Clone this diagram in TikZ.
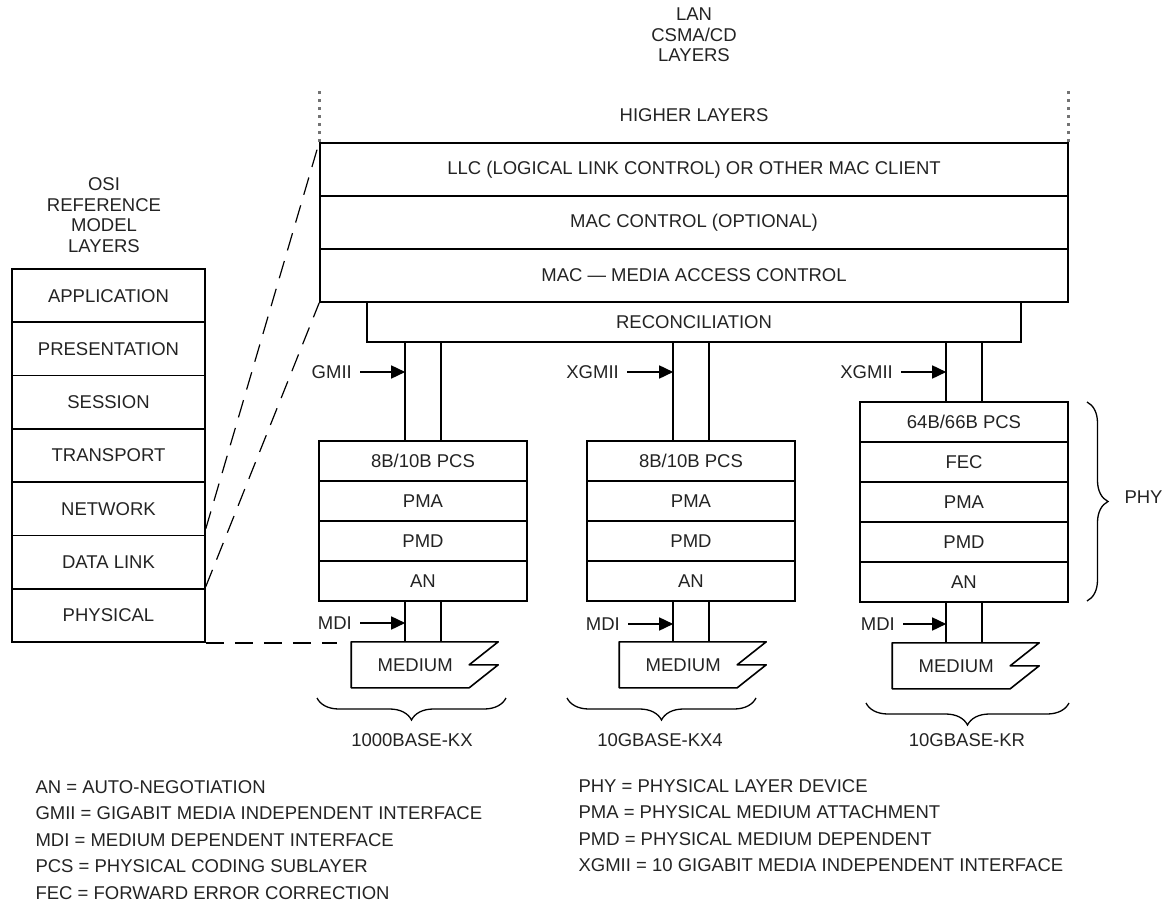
\documentclass[tikz,border=0pt]{standalone}
\usepackage{fontspec}
\setmainfont{Liberation Sans}
\usepackage{tikz}
\usetikzlibrary{arrows.meta,calc,decorations.pathreplacing}
\definecolor{inkgray}{RGB}{35,35,35}

\begin{document}
\begin{tikzpicture}[x=1pt,y=-1pt,
  font=\fontsize{18.5}{20.5}\selectfont, text=inkgray,
  box/.style={draw,line width=1.6pt,inner sep=0pt,minimum width=208pt,minimum height=40pt},
  osibox/.style={draw,line width=1.6pt,inner sep=0pt,minimum width=193pt,minimum height=53.3pt},
  lanbox/.style={draw,line width=1.6pt,inner sep=0pt,minimum width=748pt,minimum height=53pt},
  pipe/.style={line width=1.6pt},
  iface/.style={anchor=east,inner sep=0pt},
  ptr/.style={-{Triangle[length=14pt,width=13pt]},line width=1.6pt},
  mapline/.style={line width=1.2pt,dash pattern=on 18pt off 11pt},
  bracedown/.style={decorate,decoration={brace,mirror,amplitude=22pt},line width=1.3pt},
  braceright/.style={decorate,decoration={brace,amplitude=21pt},line width=1.3pt}]
  \useasboundingbox (0,0) rectangle (1163,904);

  % OSI reference model
  \node[align=center] (osititle) at (104,215) {OSI\\REFERENCE\\MODEL\\LAYERS};
  \foreach \nm/\txt [count=\i] in {app/APPLICATION,pres/PRESENTATION,sess/SESSION,
      trans/TRANSPORT,net/NETWORK,dl/DATA LINK,phy/PHYSICAL}
    \node[osibox] (osi-\nm) at (108.5,{269+53.3*(\i-0.5)}) {\txt};

  % LAN CSMA/CD layers
  \node[align=center] (lantitle) at (694,35) {LAN\\CSMA/CD\\LAYERS};
  \node (higher) at (694,115) {HIGHER LAYERS};
  \node[lanbox] (llc) at (694,169.5) {LLC (LOGICAL LINK CONTROL) OR OTHER MAC CLIENT};
  \node[lanbox] (macctl) at (694,222.5) {MAC CONTROL (OPTIONAL)};
  \node[lanbox] (mac) at (694,275.5) {MAC --- MEDIA ACCESS CONTROL};
  \node[draw,line width=1.6pt,inner sep=0pt,minimum width=654pt,minimum height=40pt]
    (recon) at (694,322) {RECONCILIATION};

  % dotted continuation of the LAN stack
  \draw[black!55,line width=2.8pt,dash pattern=on 3pt off 5pt] (llc.north west) -- ++(0,-53);
  \draw[black!55,line width=2.8pt,dash pattern=on 3pt off 5pt] (llc.north east) -- ++(0,-53);

  % PHY stacks
  \foreach \nm/\txt [count=\i] in {pcs/{8B/10B PCS},pma/PMA,pmd/PMD,an/AN}
    \node[box] (a-\nm) at (423,{441+40*(\i-0.5)}) {\txt};
  \foreach \nm/\txt [count=\i] in {pcs/{8B/10B PCS},pma/PMA,pmd/PMD,an/AN}
    \node[box] (b-\nm) at (691,{441+40*(\i-0.5)}) {\txt};
  \foreach \nm/\txt [count=\i] in {pcs/{64B/66B PCS},fec/FEC,pma/PMA,pmd/PMD,an/AN}
    \node[box] (c-\nm) at (964,{402+40*(\i-0.5)}) {\txt};

  % media and interface pipes
  \foreach \st in {a,b,c} {
    \coordinate (\st-m) at ($(\st-an.south west)+(33,40)$);
    \draw[pipe,line join=round] (\st-m) -- ++(147,0) -- ++(-29,23) -- ++(29,0)
      -- ++(-29,23) -- ++(-118,0) -- cycle;
    \node (\st-med) at ($(\st-m)+(64,23)$) {MEDIUM};
    \foreach \dx in {87,123} {
      \coordinate (\st-up\dx) at ($(\st-pcs.north west)+(\dx,0)$);
      \draw[pipe] (\st-up\dx) -- (\st-up\dx |- recon.south);
      \coordinate (\st-dn\dx) at ($(\st-an.south west)+(\dx,0)$);
      \draw[pipe] (\st-dn\dx) -- (\st-dn\dx |- \st-m);
    }
  }

  % interface labels
  \node[iface] (a-gmii) at (352,372) {GMII};
  \node[iface] (b-xgmii) at (619,372) {XGMII};
  \node[iface] (c-xgmii) at (893,372) {XGMII};
  \node[iface] (a-mdi) at (352,623) {MDI};
  \node[iface] (b-mdi) at (620,624) {MDI};
  \node[iface] (c-mdi) at (895,624) {MDI};
  \draw[ptr] ([xshift=8pt]a-gmii.east) -- (a-gmii.east -| a-up87);
  \draw[ptr] ([xshift=8pt]b-xgmii.east) -- (b-xgmii.east -| b-up87);
  \draw[ptr] ([xshift=8pt]c-xgmii.east) -- (c-xgmii.east -| c-up87);
  \draw[ptr] ([xshift=8pt]a-mdi.east) -- (a-mdi.east -| a-dn87);
  \draw[ptr] ([xshift=8pt]b-mdi.east) -- (b-mdi.east -| b-dn87);
  \draw[ptr] ([xshift=8pt]c-mdi.east) -- (c-mdi.east -| c-dn87);

  % mapping OSI -> LAN
  \draw[mapline] ([yshift=6pt]osi-dl.north east) -- (llc.north west);
  \draw[mapline] ([yshift=3pt]osi-dl.south east) -- (mac.south west);
  \draw[mapline,shorten >=14pt] (osi-phy.south east) -- (osi-phy.south east -| a-m);

  % braces
  \draw[bracedown] (317,698) -- (506,698);
  \draw[bracedown] (567,698) -- (756,698);
  \draw[bracedown] (866,703) -- (1069,703);
  \draw[braceright] (1087,402) -- (1087,601);
  \node (kx) at (412,740) {1000BASE-KX};
  \node (kx4) at (660,740) {10GBASE-KX4};
  \node (kr) at (967,740) {10GBASE-KR};
  \node[anchor=west] (phy) at (1121,497) {PHY};

  % abbreviations
  \node[align=left,anchor=west,font=\fontsize{18.5}{26.5}\selectfont] (keyleft) at (32,840)
    {AN = AUTO-NEGOTIATION\\GMII = GIGABIT MEDIA INDEPENDENT INTERFACE\\
     MDI = MEDIUM DEPENDENT INTERFACE\\PCS = PHYSICAL CODING SUBLAYER\\
     FEC = FORWARD ERROR CORRECTION};
  \node[align=left,anchor=north west,font=\fontsize{18.5}{26.5}\selectfont] (keyright) at (575,776)
    {PHY = PHYSICAL LAYER DEVICE\\PMA = PHYSICAL MEDIUM ATTACHMENT\\
     PMD = PHYSICAL MEDIUM DEPENDENT\\XGMII = 10 GIGABIT MEDIA INDEPENDENT INTERFACE};
\end{tikzpicture}
\end{document}
